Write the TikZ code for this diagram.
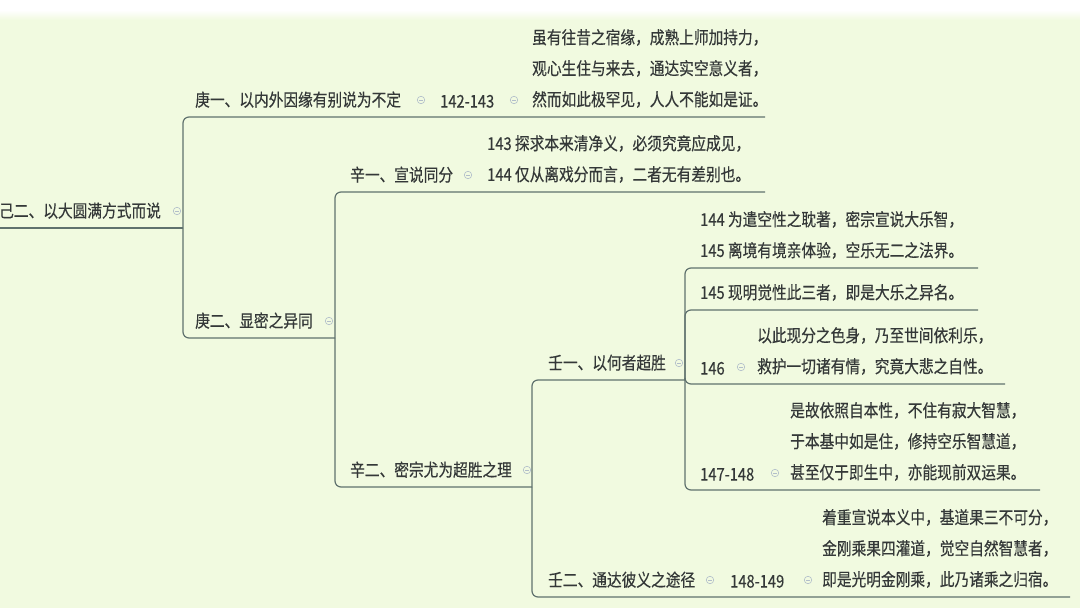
\documentclass[tikz,border=0pt]{standalone}
\usepackage{fontspec}
\usepackage{xcolor}
\usepackage{tikz}
\usetikzlibrary{calc, positioning}

\newfontfamily\cjk[FakeStretch=0.84, FakeBold=0.35]{Noto Sans CJK SC}

\definecolor{bggreen}{RGB}{241,250,224}
\definecolor{txtgray}{RGB}{52,56,56}
\definecolor{linegray}{RGB}{96,114,110}
\definecolor{foldgray}{RGB}{178,190,202}

\tikzset{
    topic/.style={font=\cjk\fontsize{17.5}{31}\selectfont, text=txtgray, inner sep=0pt, anchor=south west, align=left},
    branch/.style={draw=linegray, line width=1.2pt, rounded corners=6pt},
    fold/.style={circle, draw=foldgray, line width=0.6pt, inner sep=0pt, minimum size=7.5pt,
        path picture={\draw[foldgray, line width=0.6pt] ([xshift=1.8pt]path picture bounding box.west) -- ([xshift=-1.8pt]path picture bounding box.east);}}
}

\begin{document}
\begin{tikzpicture}[x=1pt, y=-1pt]
    % 1. Nền
    \useasboundingbox (0,0) rectangle (1080,608);
    \fill[bggreen] (0,0) rectangle (1080,608);
    \fill[white] (0,0) rectangle (1080,10);
    \shade[top color=white, bottom color=bggreen] (0,10) rectangle (1080,20);

    % 2. Chủ đề gốc
    \node[topic] (root) at (-1,219) {己二、以大圆满方式而说};
    \node[fold] (f0) at (177,211) {};
    \coordinate (r) at (183,228);
    \draw[branch] (root.south west |- r) -- (r);

    % 3. Nhánh 庚一
    \node[topic] (g1) at (195,108) {庚一、以内外因缘有别说为不定};
    \node[fold] (f1) at (421,100) {};
    \node[topic] (g1n) at (440,108) {142-143};
    \node[fold] (f1b) at (514,100) {};
    \node[topic] (g1t) at (532,108) {虽有往昔之宿缘，成熟上师加持力，\\观心生住与来去，通达实空意义者，\\然而如此极罕见，人人不能如是证。};
    \coordinate (g1e) at (765,117);
    \draw[branch] (r) |- (g1e);

    % 4. Nhánh 庚二
    \node[topic] (g2) at (195,329) {庚二、显密之异同};
    \node[fold] (f2) at (329,321) {};
    \coordinate (g2e) at (335,338);
    \draw[branch] (r) |- (g2e);

    \node[topic] (x1) at (350,183) {辛一、宣说同分};
    \node[fold] (f3) at (468,175) {};
    \node[topic] (x1t) at (487,183) {143 探求本来清净义，必须究竟应成见，\\144 仅从离戏分而言，二者无有差别也。};
    \coordinate (x1e) at (765,192);
    \draw[branch] (g2e) |- (x1e);

    \node[topic] (x2) at (350,478) {辛二、密宗尤为超胜之理};
    \node[fold] (f4) at (527,470) {};
    \coordinate (x2e) at (532,487);
    \draw[branch] (g2e) |- (x2e);

    % 5. Nhánh 壬一
    \node[topic] (r1) at (548,371) {壬一、以何者超胜};
    \node[fold] (f5) at (679,363) {};
    \coordinate (r1e) at (685,380);
    \draw[branch] (x2e) |- (r1e);

    \node[topic] (a1) at (700,259) {144 为遣空性之耽著，密宗宣说大乐智，\\145 离境有境亲体验，空乐无二之法界。};
    \node[topic] (a2) at (700,301) {145 现明觉性此三者，即是大乐之异名。};
    \node[topic] (a3) at (700,375) {146};
    \node[fold] (f6) at (741,367) {};
    \node[topic] (a3t) at (757,375) {以此现分之色身，乃至世间依利乐，\\救护一切诸有情，究竟大悲之自性。};
    \node[topic] (a4) at (700,481) {147-148};
    \node[fold] (f7) at (775,473) {};
    \node[topic] (a4t) at (790,481) {是故依照自本性，不住有寂大智慧，\\于本基中如是住，修持空乐智慧道，\\甚至仅于即生中，亦能现前双运果。};
    \coordinate (a1e) at (978,268);
    \coordinate (a2e) at (978,310);
    \coordinate (a3e) at (1005,384);
    \coordinate (a4e) at (1040,490);
    \foreach \e in {a1e, a2e, a3e, a4e}
        \draw[branch] (r1e) |- (\e);

    % 6. Nhánh 壬二
    \node[topic] (r2) at (548,588) {壬二、通达彼义之途径};
    \node[fold] (f8) at (710,580) {};
    \node[topic] (r2n) at (730,588) {148-149};
    \node[fold] (f9) at (808,580) {};
    \node[topic] (r2t) at (822,588) {着重宣说本义中，基道果三不可分，\\金刚乘果四灌道，觉空自然智慧者，\\即是光明金刚乘，此乃诸乘之归宿。};
    \coordinate (r2e) at (1070,597);
    \draw[branch] (x2e) |- (r2e);
\end{tikzpicture}
\end{document}
